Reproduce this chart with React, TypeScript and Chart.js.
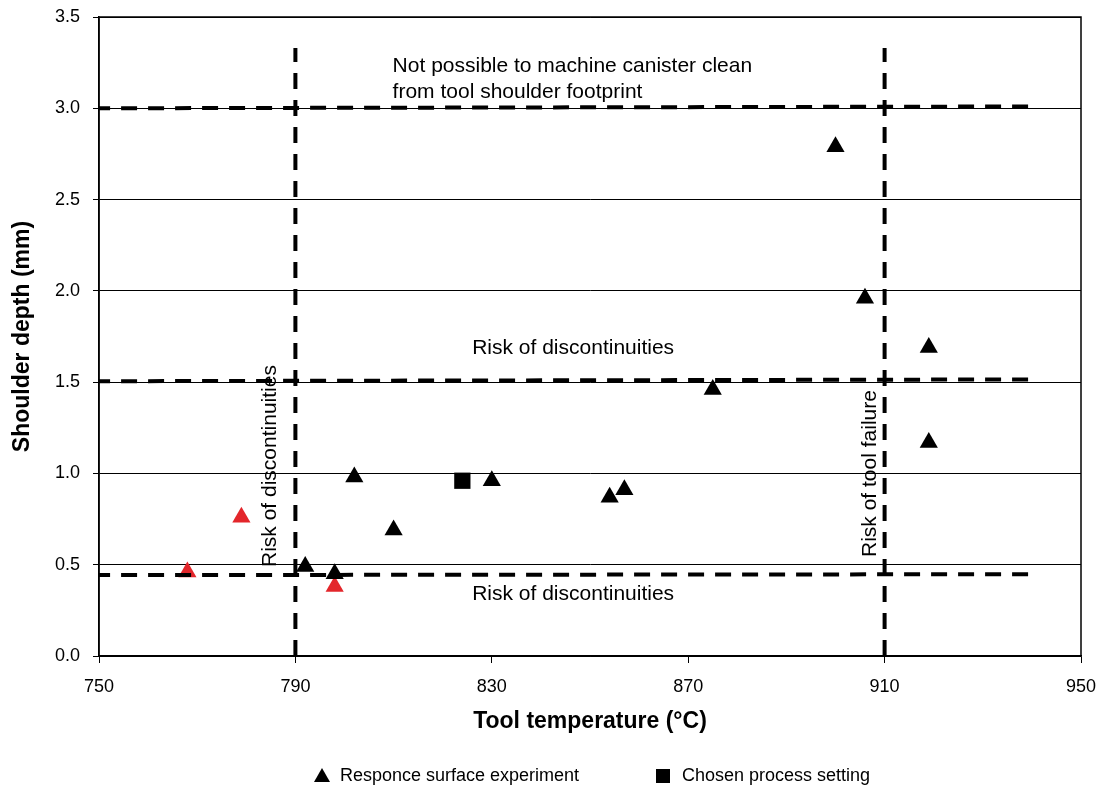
import React, { useEffect, useRef } from "react";
import { Chart, registerables } from "chart.js";

Chart.register(...registerables);

// Response surface experiment runs (tool temperature °C, shoulder depth mm)
const responseTemps = [792, 798, 802, 810, 830, 854, 857, 875, 900, 906, 919, 919];
const responseDepths = [0.49, 0.45, 0.98, 0.69, 0.96, 0.87, 0.91, 1.46, 2.79, 1.96, 1.69, 1.17];

// Runs outside the workable window
const rejectedTemps = [768, 779, 798];
const rejectedDepths = [0.46, 0.76, 0.38];

// Chosen process setting
const chosenTemps = [824];
const chosenDepths = [0.96];

// Process window boundaries
const upperLimitTemps = [749, 941];
const upperLimitDepths = [3.0, 3.01];
const midLimitTemps = [749, 941];
const midLimitDepths = [1.505, 1.515];
const lowerLimitTemps = [749, 941];
const lowerLimitDepths = [0.443, 0.448];
const coldLimitTemps = [790, 790];
const coldLimitDepths = [0, 3.33];
const hotLimitTemps = [910, 910];
const hotLimitDepths = [0, 3.33];

const xTicks = [750, 790, 830, 870, 910, 950];
const yTicks = [0, 0.5, 1.0, 1.5, 2.0, 2.5, 3.0, 3.5];

const FONT = "'Liberation Sans', Arial, Helvetica, sans-serif";

const toPoints = (xs: number[], ys: number[]) => xs.map((x, i) => ({ x, y: ys[i] }));

const boundary = (xs: number[], ys: number[]) => ({
  data: toPoints(xs, ys),
  showLine: true,
  borderColor: "#000",
  borderWidth: 4,
  borderDash: [16, 11],
  borderCapStyle: "butt" as const,
  pointRadius: 0,
  pointHoverRadius: 0,
  fill: false,
  order: 2,
});

const overlayPlugin = {
  id: "overlay",
  afterDraw(chart: any) {
    const { ctx, chartArea: a, scales } = chart;
    const xs = scales.x;
    ctx.save();

    // plot frame
    ctx.strokeStyle = "#000";
    ctx.lineWidth = 1.5;
    ctx.strokeRect(a.left, a.top, a.right - a.left, a.bottom - a.top);

    ctx.fillStyle = "#000";
    ctx.textBaseline = "alphabetic";

    // region annotations
    ctx.font = `21px ${FONT}`;
    ctx.textAlign = "left";
    const nx = xs.getPixelForValue(809.8);
    ctx.fillText("Not possible to machine canister clean", nx, 72);
    ctx.fillText("from tool shoulder footprint", nx, 97.5);
    const rx = xs.getPixelForValue(826);
    ctx.fillText("Risk of discontinuities", rx, 353.5);
    ctx.fillText("Risk of discontinuities", rx, 600);

    ctx.save();
    ctx.translate(276, 567);
    ctx.rotate(-Math.PI / 2);
    ctx.fillText("Risk of discontinuities", 0, 0);
    ctx.restore();

    ctx.save();
    ctx.translate(876, 557);
    ctx.rotate(-Math.PI / 2);
    ctx.fillText("Risk of tool failure", 0, 0);
    ctx.restore();

    // axis titles
    ctx.font = `bold 23px ${FONT}`;
    ctx.textAlign = "center";
    ctx.fillText("Tool temperature (°C)", (a.left + a.right) / 2, 728);
    ctx.save();
    ctx.translate(29, (a.top + a.bottom) / 2);
    ctx.rotate(-Math.PI / 2);
    ctx.fillText("Shoulder depth (mm)", 0, 0);
    ctx.restore();

    // legend
    const ly = 776;
    ctx.beginPath();
    ctx.moveTo(322, ly - 8);
    ctx.lineTo(330, ly + 6);
    ctx.lineTo(314, ly + 6);
    ctx.closePath();
    ctx.fill();
    ctx.fillRect(656, ly - 7, 14, 14);
    ctx.font = `18px ${FONT}`;
    ctx.textAlign = "left";
    ctx.textBaseline = "middle";
    ctx.fillText("Responce surface experiment", 340, ly);
    ctx.fillText("Chosen process setting", 682, ly);

    ctx.restore();
  },
};

export default function App() {
  const canvasRef = useRef<HTMLCanvasElement | null>(null);

  useEffect(() => {
    const canvas = canvasRef.current;
    if (!canvas) return;

    const chart = new Chart(canvas, {
      type: "scatter",
      data: {
        datasets: [
          {
            label: "Responce surface experiment",
            data: toPoints(responseTemps, responseDepths),
            pointStyle: "triangle",
            pointRadius: 10.5,
            pointHoverRadius: 10.5,
            backgroundColor: "#000",
            borderColor: "#000",
            borderWidth: 0,
            order: 0,
          },
          {
            label: "Chosen process setting",
            data: toPoints(chosenTemps, chosenDepths),
            pointStyle: "rect",
            pointRadius: 11.5,
            pointHoverRadius: 11.5,
            backgroundColor: "#000",
            borderColor: "#000",
            borderWidth: 0,
            order: 0,
          },
          boundary(upperLimitTemps, upperLimitDepths),
          boundary(midLimitTemps, midLimitDepths),
          boundary(lowerLimitTemps, lowerLimitDepths),
          boundary(coldLimitTemps, coldLimitDepths),
          boundary(hotLimitTemps, hotLimitDepths),
          {
            label: "Rejected",
            data: toPoints(rejectedTemps, rejectedDepths),
            pointStyle: "triangle",
            pointRadius: 10.5,
            pointHoverRadius: 10.5,
            backgroundColor: "#E3262B",
            borderColor: "#E3262B",
            borderWidth: 0,
            order: 3,
          },
        ] as any,
      },
      options: {
        animation: false,
        responsive: false,
        maintainAspectRatio: false,
        events: [],
        layout: { padding: { left: 0, top: 17, right: 16, bottom: 0 } },
        plugins: {
          legend: { display: false },
          tooltip: { enabled: false },
          title: { display: false },
        },
        scales: {
          x: {
            type: "linear",
            min: 750,
            max: 950,
            afterFit: (s: any) => {
              s.height = 131;
              s.paddingLeft = 0;
              s.paddingRight = 0;
            },
            afterBuildTicks: (s: any) => {
              s.ticks = xTicks.map((v) => ({ value: v }));
            },
            ticks: {
              color: "#000",
              font: { family: FONT, size: 18 },
              padding: 13,
              maxRotation: 0,
              autoSkip: false,
              callback: (v: any) => String(v),
            },
            grid: {
              drawOnChartArea: false,
              drawTicks: true,
              tickLength: 7,
              color: "#000",
              lineWidth: 1,
            },
            border: { display: true, color: "#000", width: 1.5 },
          },
          y: {
            type: "linear",
            min: 0,
            max: 3.5,
            afterFit: (s: any) => {
              s.width = 99;
              s.paddingTop = 0;
              s.paddingBottom = 0;
            },
            afterBuildTicks: (s: any) => {
              s.ticks = yTicks.map((v) => ({ value: v }));
            },
            ticks: {
              color: "#000",
              font: { family: FONT, size: 18 },
              padding: 13,
              autoSkip: false,
              callback: (v: any) => Number(v).toFixed(1),
            },
            grid: {
              drawOnChartArea: true,
              drawTicks: true,
              tickLength: 6,
              color: "#000",
              lineWidth: 1,
            },
            border: { display: true, color: "#000", width: 1.5 },
          },
        },
      },
      plugins: [overlayPlugin],
    });

    return () => chart.destroy();
  }, []);

  return (
    <div style={{ position: "absolute", left: 0, top: 0, width: 1097, height: 787, background: "#fff" }}>
      <canvas ref={canvasRef} width={1097} height={787} style={{ display: "block", width: 1097, height: 787 }} />
    </div>
  );
}
